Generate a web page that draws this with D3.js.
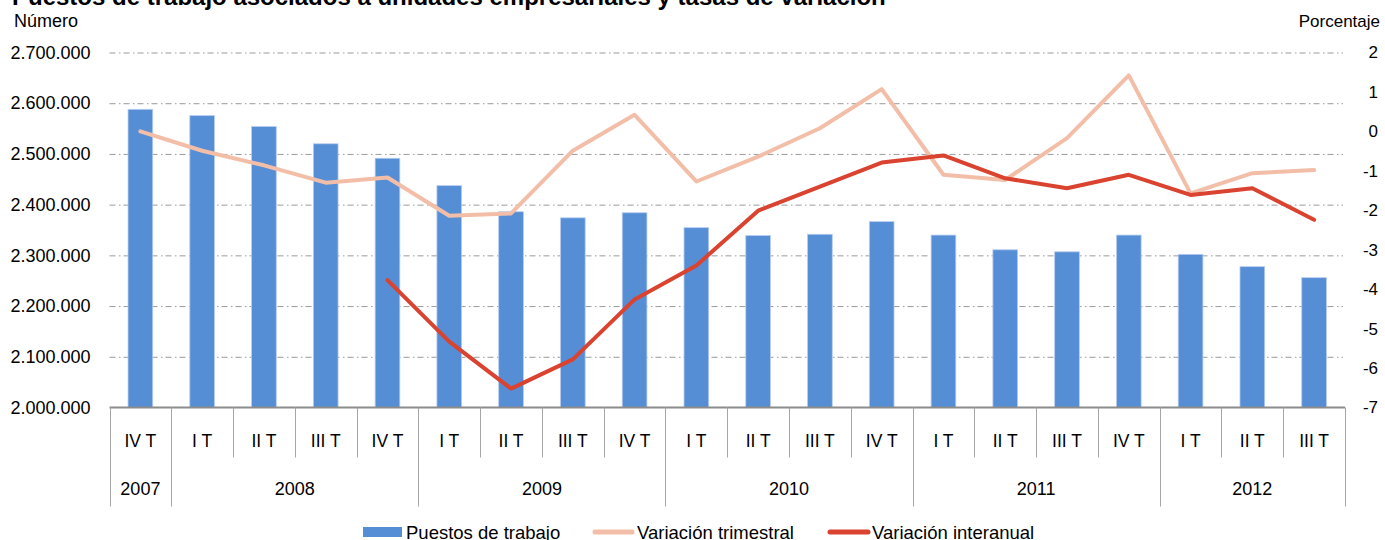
<!DOCTYPE html>
<html>
<head>
<meta charset="utf-8">
<script src="https://cdn.jsdelivr.net/npm/d3@7"></script>
<style>
body { margin: 0; background: #fff; }
svg { display: block; font-family: "Liberation Sans", Arial, sans-serif; }
.grid line { stroke: #9a9a9a; stroke-dasharray: 6,3.5,1.5,3; }
.grid path { stroke-width: 0; }
</style>
</head>
<body>
<div id="chart"></div>
<script>

var width = 1385;
var height = 540;
var margin = ({top: 52.5, right: 37.5, bottom: 132.5, left: 109.5});

// data
var quarterLabels = ["IV T",
  "I T", "II T", "III T", "IV T",
  "I T", "II T", "III T", "IV T",
  "I T", "II T", "III T", "IV T",
  "I T", "II T", "III T", "IV T",
  "I T", "II T", "III T"];
var yearLabels = ["2007", "2008", "2009", "2010", "2011", "2012"];
var yearSpans = [1, 4, 4, 4, 4, 3];

var puestos = [2588000,
  2575500, 2554000, 2520000, 2491500,
  2437500, 2386000, 2374000, 2384000,
  2354600, 2339000, 2341600, 2366500,
  2340000, 2311000, 2307000, 2340000,
  2302000, 2277700, 2256000];
var varTrimestral = [0.0,
  -0.49, -0.86, -1.30, -1.17,
  -2.14, -2.08, -0.49, 0.42,
  -1.27, -0.64, 0.08, 1.07,
  -1.10, -1.23, -0.17, 1.42,
  -1.57, -1.06, -0.98];
var varInteranual = [null,
  null, null, null, -3.77,
  -5.33, -6.52, -5.78, -4.26,
  -3.40, -2.01, -1.40, -0.79,
  -0.61, -1.19, -1.44, -1.10,
  -1.61, -1.44, -2.24];

var leftTicks = [2000000, 2100000, 2200000, 2300000, 2400000, 2500000, 2600000, 2700000];
var rightTicks = [-7, -6, -5, -4, -3, -2, -1, 0, 1, 2];

var colBar = "#558ed5";
var colTrim = "#f3bea8";
var colInter = "#d9432f";

var es = d3.formatLocale({decimal: ",", thousands: ".", grouping: [3], currency: ["", " €"], minus: "-"});

var svg = d3.select("#chart")
  .append("svg")
    .attr("width", width)
    .attr("height", height);

var plotBottom = height - margin.bottom;
var plotRight = width - margin.right - 2.5;

var x = d3.scaleBand()
    .domain(d3.range(quarterLabels.length))
    .range([margin.left, plotRight])
    .padding(0);

var yLeft = d3.scaleLinear()
    .domain([2000000, 2700000])
    .range([plotBottom, margin.top]);

var yRight = d3.scaleLinear()
    .domain([-7, 2])
    .range([plotBottom, margin.top]);

// title (cut at the top, as in the source)
svg.append("text")
    .attr("x", 12)
    .attr("y", 5)
    .attr("font-size", 24)
    .attr("font-weight", "bold")
    .text("Puestos de trabajo asociados a unidades empresariales y tasas de variación");

svg.append("text")
    .attr("x", 14)
    .attr("y", 27)
    .attr("font-size", 18)
    .text("Número");

svg.append("text")
    .attr("x", 1380)
    .attr("y", 27)
    .attr("font-size", 17)
    .attr("text-anchor", "end")
    .text("Porcentaje");

// y-grid
svg.append("g")
    .attr("class", "grid")
    .attr("transform", `translate(${margin.left},0)`)
    .call(d3.axisLeft(yLeft)
        .tickValues(leftTicks.slice(1))
        .tickSize(-(plotRight - 2 - margin.left))
        .tickFormat(""));

// left axis labels
var gl = svg.append("g")
    .attr("transform", `translate(${margin.left},0)`)
    .call(d3.axisLeft(yLeft)
        .tickValues(leftTicks)
        .tickSize(0)
        .tickPadding(19)
        .tickFormat(es.format(",d")));
gl.select(".domain").remove();
gl.selectAll("text").attr("font-size", 18).attr("fill", "#000").attr("font-family", null);

// right axis labels
var gr = svg.append("g")
    .attr("transform", `translate(${plotRight},0)`)
    .call(d3.axisRight(yRight)
        .tickValues(rightTicks)
        .tickSize(0)
        .tickPadding(33)
        .tickFormat(es.format("d")));
gr.select(".domain").remove();
gr.selectAll("text").attr("font-size", 17).attr("fill", "#000")
    .attr("text-anchor", "end").attr("font-family", null);

// bars
var barW = x.bandwidth() * 0.4;
svg.selectAll("rect.bar")
  .data(puestos)
  .enter()
    .append("rect")
    .attr("class", "bar")
    .attr("fill", colBar)
    .attr("stroke", "#b9cdf0")
    .attr("stroke-width", 0.8)
    .attr("x", (d, i) => x(i) + (x.bandwidth() - barW) / 2)
    .attr("y", d => yLeft(d))
    .attr("width", barW)
    .attr("height", d => plotBottom - yLeft(d));

// lines
var cx = (d, i) => x(i) + x.bandwidth() / 2;

svg.append("path")
    .datum(varTrimestral)
    .attr("fill", "none")
    .attr("stroke", colTrim)
    .attr("stroke-width", 4)
    .attr("stroke-linejoin", "round")
    .attr("stroke-linecap", "round")
    .attr("d", d3.line().x(cx).y(d => yRight(d)));

svg.append("path")
    .datum(varInteranual)
    .attr("fill", "none")
    .attr("stroke", colInter)
    .attr("stroke-width", 4)
    .attr("stroke-linejoin", "round")
    .attr("stroke-linecap", "round")
    .attr("d", d3.line().defined(d => d !== null).x(cx).y(d => yRight(d)));

// x axis: baseline, separators, labels
svg.append("line")
    .attr("x1", margin.left).attr("x2", plotRight)
    .attr("y1", plotBottom).attr("y2", plotBottom)
    .attr("stroke", "#8c8c8c")
    .attr("stroke-width", 2);

var yearBounds = [0];
yearSpans.forEach(n => yearBounds.push(yearBounds[yearBounds.length - 1] + n));

svg.selectAll("line.sep")
  .data(d3.range(quarterLabels.length + 1))
  .enter()
    .append("line")
    .attr("class", "sep")
    .attr("stroke", "#a6a6a6")
    .attr("stroke-width", 1)
    .attr("x1", i => Math.round(i < quarterLabels.length ? x(i) : plotRight) + 0.5)
    .attr("x2", i => Math.round(i < quarterLabels.length ? x(i) : plotRight) + 0.5)
    .attr("y1", plotBottom)
    .attr("y2", i => yearBounds.includes(i) ? plotBottom + 99 : plotBottom + 50);

svg.selectAll("text.q")
  .data(quarterLabels)
  .enter()
    .append("text")
    .attr("class", "q")
    .attr("x", cx)
    .attr("y", plotBottom + 39)
    .attr("font-size", 17.5)
    .attr("text-anchor", "middle")
    .text(d => d);

svg.selectAll("text.yr")
  .data(yearLabels)
  .enter()
    .append("text")
    .attr("class", "yr")
    .attr("x", (d, i) => (x(yearBounds[i]) + (yearBounds[i + 1] < quarterLabels.length ? x(yearBounds[i + 1]) : plotRight)) / 2)
    .attr("y", plotBottom + 87)
    .attr("font-size", 18)
    .attr("text-anchor", "middle")
    .text(d => d);

// legend
var legend = svg.append("g");
legend.append("rect")
    .attr("x", 363).attr("y", 527)
    .attr("width", 39).attr("height", 10)
    .attr("fill", colBar);
legend.append("text")
    .attr("x", 406).attr("y", 539)
    .attr("font-size", 18.5)
    .text("Puestos de trabajo");

legend.append("line")
    .attr("x1", 595).attr("x2", 632)
    .attr("y1", 532).attr("y2", 532)
    .attr("stroke", colTrim).attr("stroke-width", 5)
    .attr("stroke-linecap", "round");
legend.append("text")
    .attr("x", 637).attr("y", 539)
    .attr("font-size", 18.5)
    .text("Variación trimestral");

legend.append("line")
    .attr("x1", 830).attr("x2", 868)
    .attr("y1", 532).attr("y2", 532)
    .attr("stroke", colInter).attr("stroke-width", 5)
    .attr("stroke-linecap", "round");
legend.append("text")
    .attr("x", 872).attr("y", 539)
    .attr("font-size", 18.5)
    .text("Variación interanual");

</script>
</body>
</html>
